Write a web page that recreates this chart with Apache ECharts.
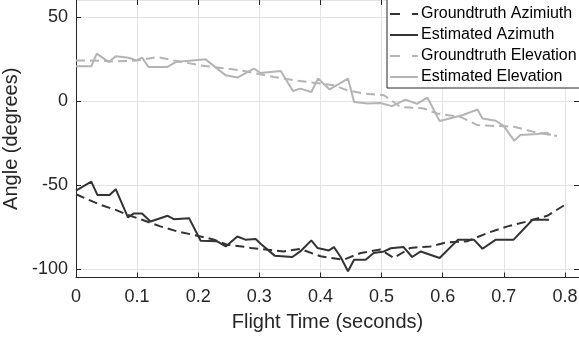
<!DOCTYPE html>
<html>
<head>
<meta charset="utf-8">
<script src="https://cdn.jsdelivr.net/npm/echarts@6/dist/echarts.min.js"></script>
<style>
html,body{margin:0;padding:0;background:#fff;}
#chart{width:579px;height:341px;}
</style>
</head>
<body>
<div id="chart"></div>
<script>
// Groundtruth Azimuth
const gtAzT = [0, 0.04, 0.065, 0.084, 0.108, 0.138, 0.166, 0.204, 0.226, 0.247, 0.275, 0.286, 0.34, 0.367, 0.40, 0.438, 0.466, 0.498, 0.52, 0.547, 0.58, 0.607, 0.64, 0.673, 0.706, 0.738, 0.771, 0.80];
const gtAzV = [-55.5, -61.8, -64.8, -67.7, -70.7, -74.6, -77.6, -80.6, -82.5, -85.5, -86.7, -87.4, -89.5, -88, -92.4, -94.4, -90.4, -88.4, -93.4, -87.4, -86.5, -84.1, -83.5, -78.6, -74.6, -71.7, -68.3, -61.8];
// Estimated Azimuth
const estAzT = [0, 0.025, 0.035, 0.055, 0.065, 0.085, 0.094, 0.108, 0.122, 0.150, 0.160, 0.185, 0.204, 0.231, 0.245, 0.264, 0.277, 0.294, 0.302, 0.325, 0.354, 0.367, 0.385, 0.395, 0.414, 0.422, 0.433, 0.445, 0.455, 0.474, 0.487, 0.504, 0.515, 0.536, 0.550, 0.564, 0.595, 0.625, 0.651, 0.665, 0.687, 0.716, 0.747, 0.774];
const estAzV = [-53.3, -48, -55.9, -55.9, -52.5, -69.3, -67, -67, -71.7, -68.3, -70.3, -69.7, -83.1, -83.5, -86.5, -80.6, -82.5, -82.1, -84.9, -92, -92.8, -89.5, -82.9, -87.4, -88.9, -86.9, -92.8, -101.3, -94.4, -94.4, -90.4, -89.5, -87.6, -86.9, -92.8, -89.5, -93.4, -82.5, -82.5, -87.9, -82.5, -82.5, -70.7, -70.7];
// Groundtruth Elevation
const gtElT = [0, 0.03, 0.06, 0.1, 0.133, 0.16, 0.204, 0.269, 0.324, 0.357, 0.378, 0.422, 0.444, 0.471, 0.504, 0.531, 0.569, 0.591, 0.629, 0.657, 0.717, 0.749, 0.787];
const gtElV = [24.1, 24.1, 23.5, 24, 26.1, 24.1, 21.1, 18.2, 14.2, 12.3, 11.3, 9.3, 6.3, 4.4, 3.4, -3.6, -4.5, -7.5, -9.5, -14.4, -15.4, -18.4, -20.9];
// Estimated Elevation
const estElT = [0, 0.025, 0.034, 0.054, 0.065, 0.086, 0.099, 0.108, 0.119, 0.149, 0.163, 0.212, 0.245, 0.264, 0.291, 0.302, 0.335, 0.355, 0.367, 0.385, 0.396, 0.415, 0.445, 0.455, 0.477, 0.498, 0.517, 0.539, 0.558, 0.575, 0.595, 0.632, 0.657, 0.665, 0.687, 0.70, 0.717, 0.727, 0.755, 0.771, 0.777];
const estElV = [20.6, 20.6, 28.1, 23.1, 26.5, 25.7, 24.1, 25.7, 20.1, 20.1, 23.1, 24.7, 15.2, 13.9, 19.2, 16.6, 17.8, 5.9, 7.3, 5.3, 13.3, 6.8, 13.3, -0.6, -1.5, -1.2, -3.1, 0.8, -1.8, 2, -12, -8.5, -5.1, -10.4, -11.8, -15, -23.7, -20.3, -19.7, -19, -20.3];

const seriesNames = ['Groundtruth Azimiuth', 'Estimated Azimuth', 'Groundtruth Elevation', 'Estimated Elevation'];
const xTitle = 'Flight Time (seconds)';
const yTitle = 'Angle (degrees)';

const zip = (t, v) => t.map((x, i) => [x, v[i]]);
const DARK = '#333333', LIGHT = '#b4b4b4', AX = '#262626', GRIDC = '#e3e3e3';
const FONT = '"Liberation Sans", Arial, sans-serif';
const ICON_SOLID = 'path://M0,0h28v2h-28z';
const ICON_DASH = 'path://M0,0h10v2h-10z M22,0h6v2h-6z';

function mk(name, data, color, dashed) {
  return {
    name, type: 'line', data, symbol: 'none', showSymbol: false,
    lineStyle: { color, width: 2, type: dashed ? [9, 5] : 'solid' },
    itemStyle: { color },
    animation: false, z: 3
  };
}

const chart = echarts.init(document.getElementById('chart'), null, { renderer: 'canvas' });
chart.setOption({
  animation: false,
  backgroundColor: '#ffffff',
  grid: { left: 76, right: 0, top: 0, bottom: 63.5, containLabel: false, outerBoundsMode: 'none' },
  legend: {
    orient: 'vertical', left: 387, top: -2,
    padding: [8, 6, 3, 3], itemGap: 5, itemWidth: 28, itemHeight: 2,
    backgroundColor: '#ffffff', borderColor: AX, borderWidth: 1,
    textStyle: { fontFamily: FONT, fontSize: 16, color: '#000', padding: [0, 0, 0, -2] },
    data: seriesNames.map((n, i) => ({ name: n, icon: i % 2 === 0 ? ICON_DASH : ICON_SOLID }))
  },
  xAxis: [{
    type: 'value', min: 0, max: 0.823, interval: 0.1,
    name: xTitle, nameLocation: 'middle', nameGap: 35,
    nameTextStyle: { fontFamily: FONT, fontSize: 20, color: AX },
    axisLine: { show: true, onZero: false, lineStyle: { color: AX, width: 1 } },
    axisTick: { show: true, inside: true, length: 5, lineStyle: { color: AX } },
    axisLabel: { fontFamily: FONT, fontSize: 18, color: AX, margin: 11, showMaxLabel: false,
      formatter: v => (Math.round(v * 10) / 10).toString() },
    splitLine: { show: true, lineStyle: { color: GRIDC, width: 1 } }
  }, {
    type: 'value', position: 'top', min: 0, max: 0.823, interval: 0.1,
    axisLine: { show: false, onZero: false }, axisLabel: { show: false }, splitLine: { show: false },
    axisTick: { show: true, inside: true, length: 5, lineStyle: { color: AX } }
  }],
  yAxis: [{
    type: 'value', min: -105, max: 60, splitNumber: 3,
    name: yTitle, nameLocation: 'middle', nameGap: 48,
    nameTextStyle: { fontFamily: FONT, fontSize: 20, color: AX },
    axisLine: { show: true, onZero: false, lineStyle: { color: AX, width: 1 } },
    axisTick: { show: true, inside: true, length: 5, lineStyle: { color: AX } },
    axisLabel: { fontFamily: FONT, fontSize: 18, color: AX, margin: 8, showMinLabel: false, showMaxLabel: false },
    splitLine: { show: true, lineStyle: { color: GRIDC, width: 1 } }
  }, {
    type: 'value', position: 'right', min: -105, max: 60, splitNumber: 3,
    axisLine: { show: false, onZero: false }, axisLabel: { show: false }, splitLine: { show: false },
    axisTick: { show: true, inside: true, length: 5, lineStyle: { color: AX } }
  }],
  series: [
    mk(seriesNames[0], zip(gtAzT, gtAzV), DARK, true),
    mk(seriesNames[1], zip(estAzT, estAzV), DARK, false),
    mk(seriesNames[2], zip(gtElT, gtElV), LIGHT, true),
    mk(seriesNames[3], zip(estElT, estElV), LIGHT, false)
  ]
});
</script>
</body>
</html>
